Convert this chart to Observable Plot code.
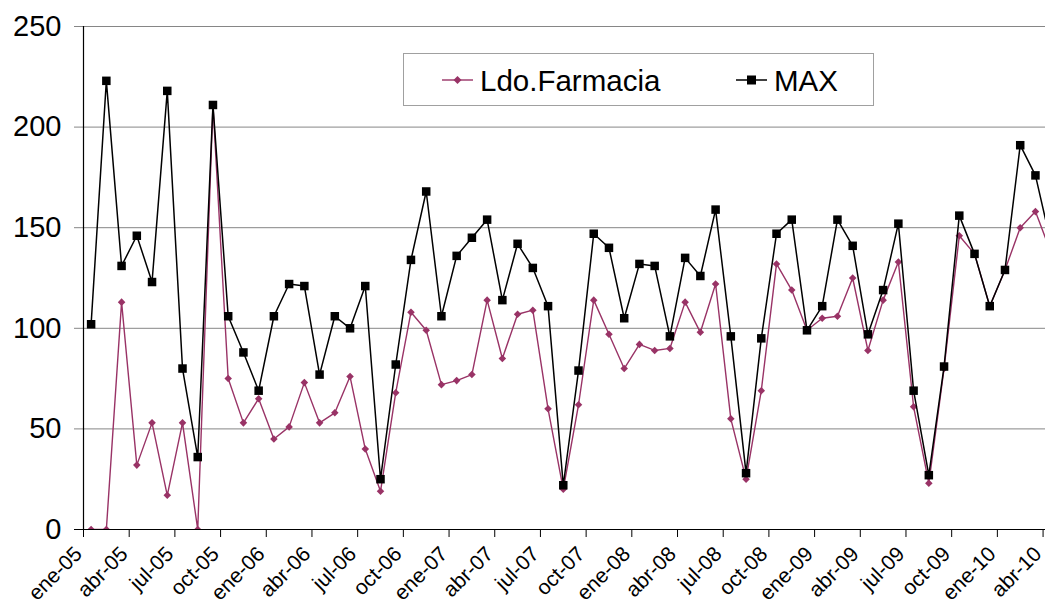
<!DOCTYPE html>
<html>
<head>
<meta charset="utf-8">
<script src="https://cdn.jsdelivr.net/npm/d3@7"></script>
<script src="https://cdn.jsdelivr.net/npm/@observablehq/plot@0.6"></script>
<style>
  html, body { margin: 0; padding: 0; background: #fff; overflow: hidden; }
  #wrap { position: relative; width: 1045px; height: 605px; }
  #legend { position: absolute; left: 403px; top: 53px; }
</style>
</head>
<body>
<div id="wrap"></div>
<script>
const months = [
  "ene-05","feb-05","mar-05","abr-05","may-05","jun-05","jul-05","ago-05","sep-05","oct-05","nov-05","dic-05",
  "ene-06","feb-06","mar-06","abr-06","may-06","jun-06","jul-06","ago-06","sep-06","oct-06","nov-06","dic-06",
  "ene-07","feb-07","mar-07","abr-07","may-07","jun-07","jul-07","ago-07","sep-07","oct-07","nov-07","dic-07",
  "ene-08","feb-08","mar-08","abr-08","may-08","jun-08","jul-08","ago-08","sep-08","oct-08","nov-08","dic-08",
  "ene-09","feb-09","mar-09","abr-09","may-09","jun-09","jul-09","ago-09","sep-09","oct-09","nov-09","dic-09",
  "ene-10","feb-10","mar-10","abr-10"
];
const ldoFarmacia = [
  0, 0, 113, 32, 53, 17, 53, 0, 211, 75, 53, 65,
  45, 51, 73, 53, 58, 76, 40, 19, 68, 108, 99, 72,
  74, 77, 114, 85, 107, 109, 60, 20, 62, 114, 97, 80,
  92, 89, 90, 113, 98, 122, 55, 25, 69, 132, 119, 99,
  105, 106, 125, 89, 114, 133, 61, 23, 80, 146, 137, 111,
  129, 150, 158, 138
];
const maxValues = [
  102, 223, 131, 146, 123, 218, 80, 36, 211, 106, 88, 69,
  106, 122, 121, 77, 106, 100, 121, 25, 82, 134, 168, 106,
  136, 145, 154, 114, 142, 130, 111, 22, 79, 147, 140, 105,
  132, 131, 96, 135, 126, 159, 96, 28, 95, 147, 154, 99,
  111, 154, 141, 97, 119, 152, 69, 27, 81, 156, 137, 111,
  129, 191, 176, 143
];
const tickLabels = [
  "ene-05","abr-05","jul-05","oct-05","ene-06","abr-06","jul-06","oct-06",
  "ene-07","abr-07","jul-07","oct-07","ene-08","abr-08","jul-08","oct-08",
  "ene-09","abr-09","jul-09","oct-09","ene-10","abr-10"
];
const yTicks = [0, 50, 100, 150, 200, 250];
const seriesNames = ["Ldo.Farmacia", "MAX"];

const PINK = "#993366";
const GRID = "#868686";

const rows = months.map((m, i) => ({i, month: m, ldo: ldoFarmacia[i], max: maxValues[i]}));
const tickRows = tickLabels.map((label) => ({pos: months.indexOf(label), label}));
const xOf = d => d.i + 0.5;

const chart = Plot.plot({
  width: 1045,
  height: 605,
  marginLeft: 74,
  marginRight: 0,
  marginTop: 26,
  marginBottom: 76,
  style: {fontFamily: "'Liberation Sans', Arial, sans-serif", background: "#fff", color: "#000", overflow: "hidden"},
  x: {type: "linear", domain: [-0.591, 63.16], ticks: tickRows.map(d => d.pos), tickSize: 8, tickFormat: () => "", label: null},
  y: {domain: [0, 250], axis: null},
  marks: [
    Plot.ruleY(yTicks.filter(v => v > 0), {stroke: GRID, strokeWidth: 1}),
    Plot.ruleY([0], {stroke: "#000", strokeWidth: 1.2}),
    Plot.ruleX([0], {stroke: "#000", strokeWidth: 1.2}),
    Plot.text(yTicks, {x: -0.591, y: d => d, text: d => String(d), textAnchor: "end", dx: -13, fontSize: 29, fill: "#000"}),
    Plot.text(tickRows, {x: "pos", y: 0, text: "label", rotate: -45, textAnchor: "end", dx: -5, dy: 21, fontSize: 21, fill: "#000"}),
    Plot.line(rows, {x: xOf, y: "ldo", stroke: PINK, strokeWidth: 1.4, clip: true}),
    Plot.dot(rows, {x: xOf, y: "ldo", symbol: "diamond2", r: 3.4, fill: PINK, stroke: "none", clip: true}),
    Plot.line(rows, {x: xOf, y: "max", stroke: "#000", strokeWidth: 1.5, clip: true}),
    Plot.dot(rows, {x: xOf, y: "max", symbol: "square", r: 4.8, fill: "#000", stroke: "none", clip: true})
  ]
});
const wrap = document.getElementById("wrap");
wrap.appendChild(chart);

// Legend (overlaid inside the plot area, as in the reference)
const ns = "http://www.w3.org/2000/svg";
const lg = document.createElementNS(ns, "svg");
lg.setAttribute("id", "legend");
lg.setAttribute("width", 471);
lg.setAttribute("height", 53);
lg.innerHTML = `
  <rect x="0.5" y="0.5" width="470" height="52" fill="#fff" stroke="#a0a0a0" stroke-width="1"/>
  <line x1="39" x2="70" y1="27" y2="27" stroke="${PINK}" stroke-width="1.4"/>
  <path d="M54.5,23 L58.5,27 L54.5,31 L50.5,27 Z" fill="${PINK}"/>
  <text x="77" y="38" font-family="'Liberation Sans', Arial, sans-serif" font-size="29.5" fill="#000">${seriesNames[0]}</text>
  <line x1="333" x2="364" y1="27" y2="27" stroke="#000" stroke-width="1.5"/>
  <rect x="344" y="22.5" width="9" height="9" fill="#000"/>
  <text x="371" y="38" font-family="'Liberation Sans', Arial, sans-serif" font-size="29.5" fill="#000">${seriesNames[1]}</text>
`;
wrap.appendChild(lg);
</script>
</body>
</html>
